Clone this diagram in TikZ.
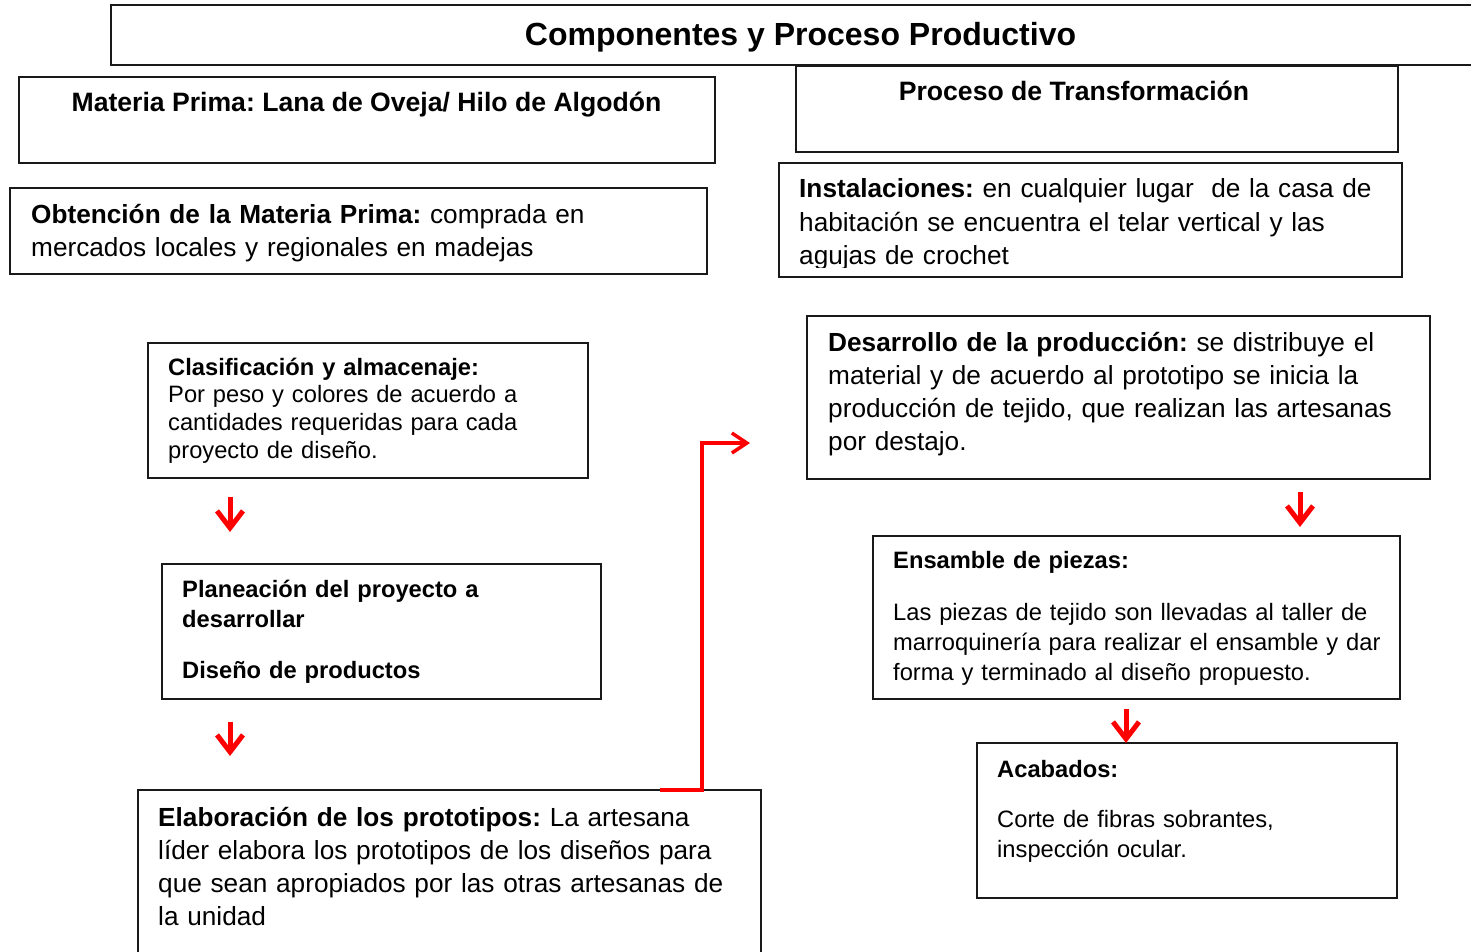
\documentclass[tikz,border=0pt]{standalone}
\usepackage{fontspec}
\setmainfont{Liberation Sans}
\usetikzlibrary{arrows.meta}
\frenchspacing

\tikzset{
  caja/.style={draw=black!90, line width=2pt, anchor=north west, inner sep=0pt, outer sep=0pt},
  texto/.style={anchor=base west, align=left, inner sep=0pt, text width=660pt, font=\fontsize{26.2}{33}\selectfont},
  chico/.style={texto, font=\fontsize{23.7}{30}\selectfont},
  flecha/.style={red, line width=5pt, -{Straight Barb[length=17pt,width=26pt]}},
  conector/.style={red, line width=3.5pt, -{Straight Barb[length=15pt,width=20pt]}}
}

\begin{document}
\begin{tikzpicture}[x=1pt,y=-1pt]
\clip (0,0) rectangle (1471,951);
% cajas
\node[caja, minimum width=1380pt, minimum height=60pt] (tit) at (111,5) {};
\node[caja, minimum width=696pt, minimum height=86pt] (mp) at (19,77) {};
\node[caja, minimum width=697pt, minimum height=86pt] (obt) at (10,188) {};
\node[caja, minimum width=602pt, minimum height=86pt] (pt) at (796,66) {};
\node[caja, minimum width=623pt, minimum height=114pt] (ins) at (779,163) {};
\node[caja, minimum width=440pt, minimum height=135pt] (clas) at (148,343) {};
\node[caja, minimum width=439pt, minimum height=135pt] (plan) at (162,564) {};
\node[caja, minimum width=623pt, minimum height=200pt] (elab) at (138,790) {};
\node[caja, minimum width=623pt, minimum height=163pt] (des) at (807,316) {};
\node[caja, minimum width=527pt, minimum height=163pt] (ens) at (873,536) {};
\node[caja, minimum width=420pt, minimum height=155pt] (acab) at (977,743) {};
% textos
\node[anchor=base, font=\bfseries\fontsize{32}{38}\selectfont] (tit-t) at (800.5,45.5) {Componentes y Proceso Productivo};
\node[anchor=base, font=\bfseries\fontsize{26.6}{33}\selectfont] (mp-t) at (366.5,111.5) {Materia Prima: Lana de Oveja/ Hilo de Algodón};
\node[anchor=base, font=\bfseries\fontsize{26.6}{33}\selectfont] (pt-t) at (1074,100.5) {Proceso de Transformación};
\node[texto] (obt-t) at (31,223) {\textbf{Obtención de la Materia Prima:} comprada en\\ mercados locales y regionales en madejas};
\begin{scope}
\clip (779,163) rectangle (1402,267);
\node[texto, font=\fontsize{26.2}{33.5}\selectfont] (ins-t) at (799,197.5) {\textbf{Instalaciones:} en cualquier lugar\ \ de la casa de\\ habitación se encuentra el telar vertical y las\\ agujas de crochet};
\end{scope}
\node[chico, font=\fontsize{23.7}{27.7}\selectfont] (clas-t) at (168,375) {\textbf{Clasificación y almacenaje:}\\ Por peso y colores de acuerdo a\\ cantidades requeridas para cada\\ proyecto de diseño.};
\node[chico, font=\bfseries\fontsize{23.7}{30}\selectfont] (plan-t) at (182,597) {Planeación del proyecto a\\ desarrollar\\[21pt] Diseño de productos};
\node[texto] (elab-t) at (158,826.5) {\textbf{Elaboración de los prototipos:} La artesana\\ líder elabora los prototipos de los diseños para\\ que sean apropiados por las otras artesanas de\\ la unidad};
\node[texto] (des-t) at (828,351.5) {\textbf{Desarrollo de la producción:} se distribuye el\\ material y de acuerdo al prototipo se inicia la\\ producción de tejido, que realizan las artesanas\\ por destajo.};
\node[chico] (ens-t) at (893,568.5) {\textbf{Ensamble de piezas:}\\[21.5pt] Las piezas de tejido son llevadas al taller de\\ marroquinería para realizar el ensamble y dar\\ forma y terminado al diseño propuesto.};
\node[chico, font=\fontsize{23.7}{29.5}\selectfont] (acab-t) at (997,777.5) {\textbf{Acabados:}\\[20.5pt] Corte de fibras sobrantes,\\ inspección ocular.};
% flechas
\coordinate (llegada) at ([xshift=-57pt,yshift=36pt]des.south west);
\draw[flecha] ([xshift=82pt,yshift=-19pt]clas.south west) -- ([xshift=68pt,yshift=32pt]plan.north west);
\draw[flecha] ([xshift=68pt,yshift=-23pt]plan.south west) -- ([xshift=92pt,yshift=34pt]elab.north west);
\draw[flecha] ([xshift=493pt,yshift=-13pt]des.south west) -- ([xshift=427pt,yshift=9pt]ens.north west);
\draw[flecha] ([xshift=253pt,yshift=-10pt]ens.south west) -- ([xshift=149pt]acab.north west);
\draw[conector] ([xshift=522pt]elab.north west) -- ++(42,0) |- (llegada);
\end{tikzpicture}
\end{document}
